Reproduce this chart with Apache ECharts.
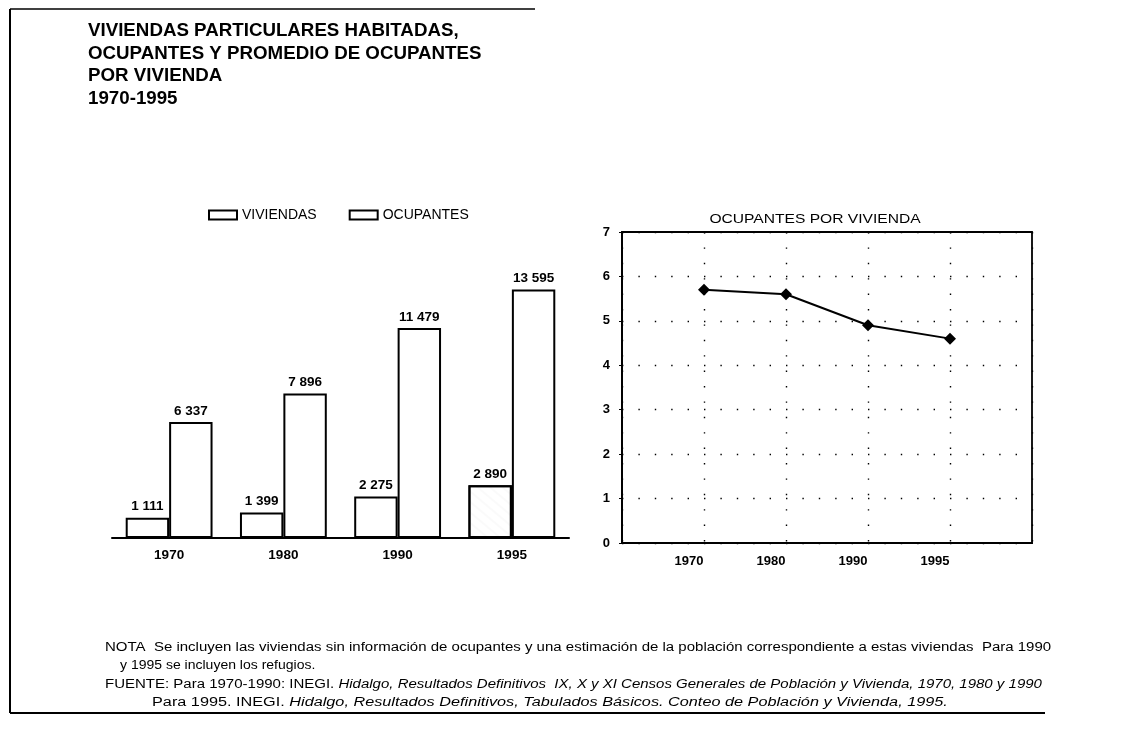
<!DOCTYPE html>
<html>
<head>
<meta charset="utf-8">
<script src="https://cdn.jsdelivr.net/npm/echarts/dist/echarts.min.js"></script>
<style>
  html, body { margin: 0; padding: 0; background: #fff; }
  #chart { width: 1129px; height: 742px; }
</style>
</head>
<body>
<div id="chart"></div>
<script>
// Censos / conteo years
const years = ['1970', '1980', '1990', '1995'];
// Viviendas particulares habitadas
const viviendas = [1111, 1399, 2275, 2890];
// Ocupantes
const ocupantes = [6337, 7896, 11479, 13595];
// Promedio de ocupantes por vivienda
const promedio = [5.7, 5.6, 4.9, 4.6];

const FONT = '"Liberation Sans", Arial, Helvetica, sans-serif';
const INK = '#000';

// thousands separated by a space: 13 595
const fmt = n => String(n).replace(/\B(?=(\d{3})+(?!\d))/g, ' ');

const chart = echarts.init(document.getElementById('chart'), null, { renderer: 'canvas' });

const barBase = {
  type: 'bar',
  xAxisIndex: 0,
  yAxisIndex: 0,
  barGap: '0%',
  barCategoryGap: '24%',
  itemStyle: { color: '#fff', borderColor: INK, borderWidth: 2 },
  label: {
    show: true,
    position: 'top',
    distance: 4,
    color: INK,
    fontFamily: FONT,
    fontWeight: 'bold',
    fontSize: 13.5,
    formatter: p => fmt(p.value)
  },
  silent: true
};

// wide, typewriter-like text block drawn as a graphic element
const wideText = (x, y, text, font, sx, extra) => Object.assign({
  type: 'text', x: x, y: y, scaleX: sx,
  style: Object.assign({ text: text, fill: INK, font: font, textVerticalAlign: 'top' }, extra || {})
});

const noteFont = '12.5px ' + FONT;
const noteItalic = 'italic 12.5px ' + FONT;
const noteRich = { r: { fill: INK, font: noteFont }, i: { fill: INK, font: noteItalic } };

const option = {
  animation: false,
  backgroundColor: '#fff',
  textStyle: { fontFamily: FONT, color: INK },
  legend: {
    data: ['VIVIENDAS', 'OCUPANTES'],
    left: 203,
    top: 203,
    icon: 'rect',
    itemWidth: 28,
    itemHeight: 9,
    itemGap: 32,
    textStyle: { fontFamily: FONT, fontSize: 14, color: INK },
    selectedMode: false
  },
  grid: [
    { left: 112, width: 457, top: 282, height: 256 },
    { left: 622, width: 410, top: 232, height: 311, show: true, borderColor: INK, borderWidth: 1.8, backgroundColor: 'transparent' }
  ],
  xAxis: [
    {
      type: 'category',
      gridIndex: 0,
      data: years,
      axisLine: { lineStyle: { color: INK, width: 2 } },
      axisTick: { show: false },
      axisLabel: { color: INK, fontFamily: FONT, fontWeight: 'bold', fontSize: 13.5, margin: 10 }
    },
    {
      type: 'value',
      gridIndex: 1,
      min: 0,
      max: 5,
      interval: 1,
      axisLine: { show: true, lineStyle: { color: INK, width: 2 } },
      axisTick: { show: false },
      axisLabel: {
        color: INK, fontFamily: FONT, fontWeight: 'bold', fontSize: 13, margin: 12,
        padding: [0, 30, 0, 0],
        formatter: v => years[v - 1] || ''
      },
      splitLine: { show: true, lineStyle: { color: INK, width: 1.4, type: [1.4, 14] } }
    }
  ],
  yAxis: [
    {
      type: 'value',
      gridIndex: 0,
      min: 0,
      max: 14000,
      show: false,
      splitLine: { show: false }
    },
    {
      type: 'value',
      gridIndex: 1,
      min: 0,
      max: 7,
      interval: 1,
      axisLine: { show: true, lineStyle: { color: INK, width: 2 } },
      axisTick: { show: true, length: 3, lineStyle: { color: INK } },
      axisLabel: { color: INK, fontFamily: FONT, fontWeight: 'bold', fontSize: 13, margin: 12 },
      splitLine: { show: true, lineStyle: { color: INK, width: 1.4, type: [1.4, 15] } }
    }
  ],
  series: [
    Object.assign({}, barBase, {
      name: 'VIVIENDAS',
      data: viviendas.map((v, i) => i === viviendas.length - 1
        ? { value: v, itemStyle: { decal: { symbol: 'circle', symbolSize: 0.3, color: 'rgba(0,0,0,0.6)', dashArrayX: [1, 0], dashArrayY: [2, 6], rotation: 0.7 } } }
        : v)
    }),
    Object.assign({}, barBase, {
      name: 'OCUPANTES',
      data: ocupantes
    }),
    {
      name: 'Ocupantes por vivienda',
      type: 'line',
      xAxisIndex: 1,
      yAxisIndex: 1,
      data: promedio.map((v, i) => [i + 1, v]),
      symbol: 'diamond',
      symbolSize: 12,
      itemStyle: { color: INK },
      lineStyle: { color: INK, width: 2 },
      silent: true
    }
  ],
  graphic: [
    // page frame
    { type: 'line', shape: { x1: 10, y1: 9, x2: 535, y2: 9 }, style: { stroke: INK, lineWidth: 1.5 } },
    { type: 'line', shape: { x1: 10, y1: 9, x2: 10, y2: 713 }, style: { stroke: INK, lineWidth: 2 } },
    { type: 'line', shape: { x1: 10, y1: 713, x2: 1045, y2: 713 }, style: { stroke: INK, lineWidth: 2 } },
    // main title
    wideText(88, 20,
      'VIVIENDAS PARTICULARES HABITADAS,\nOCUPANTES Y PROMEDIO DE OCUPANTES\nPOR VIVIENDA\n1970-1995',
      'bold 18px ' + FONT, 1.04, { lineHeight: 22.5 }),
    // line chart title
    {
      type: 'text', x: 815, y: 213, scaleX: 1.2,
      style: { text: 'OCUPANTES POR VIVIENDA', fill: INK, font: '13px ' + FONT, textAlign: 'center', textVerticalAlign: 'top' }
    },
    // notes
    wideText(105, 641,
      'NOTA  Se incluyen las viviendas sin información de ocupantes y una estimación de la población correspondiente a estas viviendas  Para 1990',
      noteFont, 1.2),
    wideText(120, 659, 'y 1995 se incluyen los refugios.', noteFont, 1.12),
    wideText(105, 678,
      '{r|FUENTE: Para 1970-1990: INEGI. }{i|Hidalgo, Resultados Definitivos  IX, X y XI Censos Generales de Población y Vivienda, 1970, 1980 y 1990}',
      noteFont, 1.2, { rich: noteRich }),
    wideText(152, 696,
      '{r|Para 1995. INEGI. }{i|Hidalgo, Resultados Definitivos, Tabulados Básicos. Conteo de Población y Vivienda, 1995.}',
      noteFont, 1.3, { rich: noteRich })
  ]
};

chart.setOption(option);
</script>
</body>
</html>
